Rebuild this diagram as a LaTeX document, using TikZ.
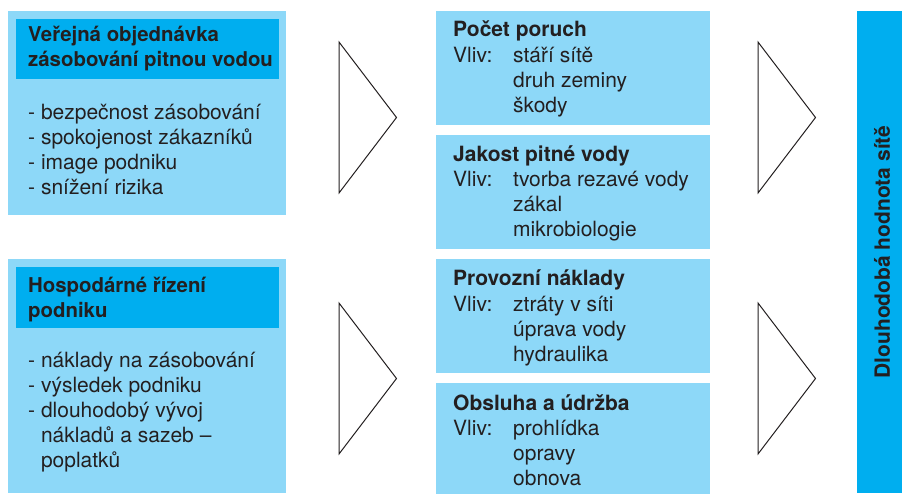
\documentclass[tikz,border=0pt]{standalone}
\usepackage{fontspec}
\setmainfont{TeX Gyre Heros}

\definecolor{paleblue}{HTML}{8DD8F8}
\definecolor{deepblue}{HTML}{00AEEF}
\definecolor{inkgray}{HTML}{231F20}

\tikzset{
  txt/.style={font=\fontsize{21}{25}\selectfont, text=inkgray, anchor=base west, inner sep=0pt},
  headtxt/.style={txt, font=\fontsize{21}{25}\selectfont\bfseries},
  lefthead/.style={txt, font=\fontsize{20.4}{25}\selectfont\bfseries},
  tri/.style={draw=inkgray, line width=1pt, line join=miter},
}

\begin{document}
\begin{tikzpicture}[x=1pt, y=-1pt]

\useasboundingbox (0,0) rectangle (902,493);

% Left boxes
\fill [paleblue] (8,11) rectangle (286,215);
\fill [deepblue] (16,19) rectangle (279,79);
\fill [paleblue] (8,259) rectangle (286,493);
\fill [deepblue] (16,267) rectangle (279,328);

\node [lefthead] (objA) at (28,41) {Veřejná objednávka};
\node [lefthead] (objB) at (28,66) {zásobování pitnou vodou};
\foreach \t [count=\i] in {bezpečnost zásobování, spokojenost zákazníků, image podniku, snížení rizika}
  \node [txt] (obj\i) at (28,119+25*\i-25) {- \t};

\node [lefthead] (hosA) at (28,292) {Hospodárné řízení};
\node [lefthead] (hosB) at (28,317) {podniku};
\foreach \t [count=\i] in {náklady na zásobování, výsledek podniku, dlouhodobý vývoj}
  \node [txt] (hos\i) at (28,367+25*\i-25) {- \t};
\node [txt] (hos4) at (40.8,442) {nákladů a sazeb –};
\node [txt] (hos5) at (40.8,467) {poplatků};

% Triangles
\foreach \x in {339,758}
  \foreach \y in {42,303}
    \draw [tri] (\x,\y) -- ++(57.5,75.5) -- ++(-57.5,75.5) -- cycle;

% Middle boxes
\foreach \y in {11,135,259,383}
  \fill [paleblue] (436,\y) rectangle (710,\y+114);
\fill [paleblue] (436,383) rectangle (710,493);

\foreach \h/\a/\b/\c [count=\k] in {Počet poruch/stáří sítě/druh zeminy/škody,
    Jakost pitné vody/tvorba rezavé vody/zákal/mikrobiologie,
    Provozní náklady/ztráty v síti/úprava vody/hydraulika,
    Obsluha a údržba/prohlídka/opravy/obnova}
{
  \node [headtxt] (head\k) at (453,36.5+124.5*\k-124.5) {\h};
  \node [txt] (vliv\k) at (453,62+124.5*\k-124.5) {Vliv:};
  \node [txt] (itemA\k) at (513,62+124.5*\k-124.5) {\a};
  \node [txt] (itemB\k) at (513,87+124.5*\k-124.5) {\b};
  \node [txt] (itemC\k) at (513,112+124.5*\k-124.5) {\c};
}

% Right bar
\fill [deepblue] (857,11) rectangle (902,493);
\node [headtxt, anchor=center, rotate=90] (value) at (882,252) {Dlouhodobá hodnota sítě};

\end{tikzpicture}
\end{document}
